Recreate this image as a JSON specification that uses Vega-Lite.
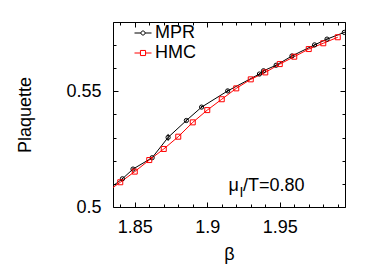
{
  "$schema": "https://vega.github.io/schema/vega-lite/v6.json",
  "width": 232,
  "height": 185,
  "autosize": "none",
  "padding": {"left": 113, "top": 22, "right": 37, "bottom": 60},
  "background": "white",
  "config": {
    "font": "Liberation Sans",
    "view": {"stroke": "black", "strokeWidth": 1},
    "axis": {
      "domain": false,
      "grid": false,
      "tickColor": "black",
      "tickWidth": 1,
      "labelColor": "black",
      "titleColor": "black",
      "labelFont": "Liberation Sans",
      "titleFont": "Liberation Sans",
      "labelFontSize": 18,
      "titleFontSize": 18,
      "titleFontWeight": "normal",
      "labelFlush": false,
      "labelOverlap": false
    }
  },
  "datasets": {
    "pts": [
      {"s": "MPR", "b": 1.83, "p": 0.5068, "e": 0},
      {"s": "MPR", "b": 1.8415, "p": 0.5122, "e": 0.0004},
      {"s": "MPR", "b": 1.8488, "p": 0.5164, "e": 0.0005},
      {"s": "MPR", "b": 1.862, "p": 0.5213, "e": 0.0004},
      {"s": "MPR", "b": 1.873, "p": 0.5301, "e": 0.0015},
      {"s": "MPR", "b": 1.8856, "p": 0.5374, "e": 0.0005},
      {"s": "MPR", "b": 1.8961, "p": 0.5432, "e": 0.0005},
      {"s": "MPR", "b": 1.9141, "p": 0.5502, "e": 0.0006},
      {"s": "MPR", "b": 1.936, "p": 0.5575, "e": 0.0004},
      {"s": "MPR", "b": 1.9388, "p": 0.5589, "e": 0.0004},
      {"s": "MPR", "b": 1.9475, "p": 0.5613, "e": 0.0003},
      {"s": "MPR", "b": 1.9584, "p": 0.5653, "e": 0.0003},
      {"s": "MPR", "b": 1.974, "p": 0.5701, "e": 0.0003},
      {"s": "MPR", "b": 1.9826, "p": 0.5726, "e": 0.0003},
      {"s": "MPR", "b": 1.9945, "p": 0.5755, "e": 0.0003},
      {"s": "HMC", "b": 1.83, "p": 0.5062, "e": 0},
      {"s": "HMC", "b": 1.84, "p": 0.5107, "e": 0},
      {"s": "HMC", "b": 1.85, "p": 0.5153, "e": 0},
      {"s": "HMC", "b": 1.86, "p": 0.5203, "e": 0},
      {"s": "HMC", "b": 1.87, "p": 0.5251, "e": 0},
      {"s": "HMC", "b": 1.88, "p": 0.5304, "e": 0},
      {"s": "HMC", "b": 1.89, "p": 0.5366, "e": 0},
      {"s": "HMC", "b": 1.9, "p": 0.5419, "e": 0},
      {"s": "HMC", "b": 1.91, "p": 0.5466, "e": 0},
      {"s": "HMC", "b": 1.92, "p": 0.5513, "e": 0},
      {"s": "HMC", "b": 1.93, "p": 0.5552, "e": 0},
      {"s": "HMC", "b": 1.94, "p": 0.5582, "e": 0},
      {"s": "HMC", "b": 1.95, "p": 0.5618, "e": 0},
      {"s": "HMC", "b": 1.96, "p": 0.565, "e": 0},
      {"s": "HMC", "b": 1.97, "p": 0.5683, "e": 0},
      {"s": "HMC", "b": 1.98, "p": 0.5708, "e": 0},
      {"s": "HMC", "b": 1.99, "p": 0.5734, "e": 0}
    ],
    "ann": [
      {"b": 1.9147, "p": 0.5069}
    ]
  },
  "resolve": {"axis": {"x": "independent", "y": "independent"}},
  "layer": [
    {
      "data": {"name": "pts"},
      "transform": [{"filter": "datum.s === 'MPR' && datum.e > 0"}],
      "mark": {"type": "errorbar", "color": "black", "clip": true, "thickness": 1},
      "encoding": {
        "x": {"field": "b", "type": "quantitative", "axis": null},
        "y": {"field": "p", "type": "quantitative", "axis": null},
        "yError": {"field": "e"}
      }
    },
    {
      "data": {"name": "pts"},
      "mark": {"type": "line", "strokeWidth": 1, "clip": true},
      "encoding": {
        "x": {
          "field": "b", "type": "quantitative",
          "scale": {"domain": [1.835, 1.995], "nice": false, "zero": false},
          "axis": {
            "orient": "bottom",
            "values": [1.84, 1.85, 1.86, 1.87, 1.88, 1.89, 1.9, 1.91, 1.92, 1.93, 1.94, 1.95, 1.96, 1.97, 1.98, 1.99],
            "tickSize": {"condition": {"test": "abs(datum.value*20-round(datum.value*20))<0.001", "value": -5}, "value": -3},
            "labelExpr": "abs(datum.value*20-round(datum.value*20))<0.001 ? '' + datum.value : ''",
            "labelPadding": 16,
            "title": "β",
            "titleX": 116,
            "titleY": 52,
            "titleBaseline": "alphabetic"
          }
        },
        "y": {
          "field": "p", "type": "quantitative",
          "scale": {"domain": [0.5, 0.58], "nice": false, "zero": false},
          "axis": {
            "orient": "left",
            "values": [0.5, 0.51, 0.52, 0.53, 0.54, 0.55, 0.56, 0.57, 0.58],
            "tickSize": {"condition": {"test": "abs(datum.value*20-round(datum.value*20))<0.001", "value": -5}, "value": -3},
            "labelExpr": "abs(datum.value*20-round(datum.value*20))<0.001 ? '' + datum.value : ''",
            "labelPadding": 17,
            "title": "Plaquette",
            "titleAngle": 270,
            "titleX": -83,
            "titleY": 92.5,
            "titleAlign": "center",
            "titleBaseline": "alphabetic"
          }
        },
        "color": {
          "field": "s", "type": "nominal",
          "scale": {"domain": ["MPR", "HMC"], "range": ["black", "red"]},
          "legend": {
            "orient": "none",
            "legendX": 21,
            "legendY": 2,
            "title": null,
            "padding": 0,
            "labelFont": "Liberation Sans",
            "labelFontSize": 18,
            "labelColor": "black",
            "symbolSize": 289,
            "symbolStrokeWidth": 1,
            "labelOffset": 3,
            "rowPadding": 2,
            "encode": {
              "symbols": {
                "update": {
                  "shape": [
                    {"test": "datum.value === 'MPR'", "value": "M-1,0H-0.24M0.24,0H1M-0.24,0A0.24,0.24 0 1,0 0.24,0A0.24,0.24 0 1,0 -0.24,0Z"},
                    {"value": "M-1,0H-0.3M0.3,0H1M-0.3,-0.3H0.3V0.3H-0.3Z"}
                  ],
                  "fill": {"value": "transparent"}
                }
              }
            }
          }
        }
      }
    },
    {
      "data": {"name": "pts"},
      "transform": [{"filter": "datum.s === 'MPR'"}],
      "mark": {"type": "point", "shape": "circle", "filled": false, "stroke": "black", "size": 18, "strokeWidth": 1, "clip": true, "opacity": 1},
      "encoding": {
        "x": {
          "field": "b", "type": "quantitative",
          "axis": {
            "orient": "top",
            "values": [1.84, 1.85, 1.86, 1.87, 1.88, 1.89, 1.9, 1.91, 1.92, 1.93, 1.94, 1.95, 1.96, 1.97, 1.98, 1.99],
            "tickSize": {"condition": {"test": "abs(datum.value*20-round(datum.value*20))<0.001", "value": -5}, "value": -3},
            "labels": false,
            "title": null
          }
        },
        "y": {
          "field": "p", "type": "quantitative",
          "axis": {
            "orient": "right",
            "values": [0.5, 0.51, 0.52, 0.53, 0.54, 0.55, 0.56, 0.57, 0.58],
            "tickSize": {"condition": {"test": "abs(datum.value*20-round(datum.value*20))<0.001", "value": -5}, "value": -3},
            "labels": false,
            "title": null
          }
        }
      }
    },
    {
      "data": {"name": "pts"},
      "transform": [{"filter": "datum.s === 'HMC'"}],
      "mark": {"type": "point", "shape": "square", "filled": false, "stroke": "red", "size": 25, "strokeWidth": 1, "clip": true, "opacity": 1},
      "encoding": {
        "x": {"field": "b", "type": "quantitative", "axis": null},
        "y": {"field": "p", "type": "quantitative", "axis": null}
      }
    },
    {
      "data": {"name": "ann"},
      "mark": {"type": "text", "text": "μ", "align": "left", "baseline": "alphabetic", "fontSize": 18, "font": "Liberation Sans", "color": "black"},
      "encoding": {
        "x": {"field": "b", "type": "quantitative", "axis": null},
        "y": {"field": "p", "type": "quantitative", "axis": null}
      }
    },
    {
      "data": {"name": "ann"},
      "mark": {"type": "text", "text": "I", "align": "left", "baseline": "alphabetic", "fontSize": 14, "dx": 11, "dy": 6, "font": "Liberation Sans", "color": "black"},
      "encoding": {
        "x": {"field": "b", "type": "quantitative", "axis": null},
        "y": {"field": "p", "type": "quantitative", "axis": null}
      }
    },
    {
      "data": {"name": "ann"},
      "mark": {"type": "text", "text": "/T=0.80", "align": "left", "baseline": "alphabetic", "fontSize": 18, "dx": 14.5, "font": "Liberation Sans", "color": "black"},
      "encoding": {
        "x": {"field": "b", "type": "quantitative", "axis": null},
        "y": {"field": "p", "type": "quantitative", "axis": null}
      }
    }
  ]
}
